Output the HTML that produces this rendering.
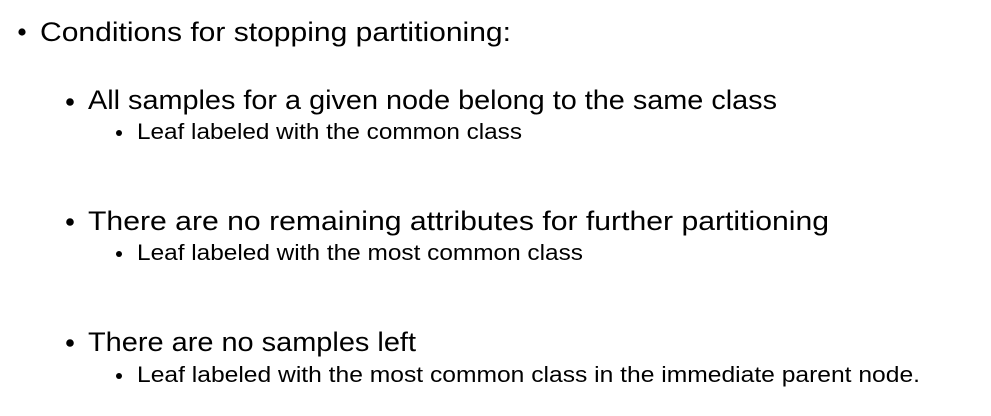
<!DOCTYPE html>
<html><head><meta charset="utf-8"><style>
html,body{margin:0;padding:0;background:#fff;width:991px;height:416px;overflow:hidden}
text{font-family:"Liberation Sans",sans-serif;fill:#000}
</style></head><body>
<svg width="991" height="416" xmlns="http://www.w3.org/2000/svg">
<circle cx="22" cy="32" r="3.6" fill="#000"/>
<text x="40" y="41" font-size="27" textLength="471" lengthAdjust="spacingAndGlyphs">Conditions for stopping partitioning:</text>

<circle cx="70" cy="102" r="3.8" fill="#000"/>
<text x="88" y="109" font-size="27" textLength="689" lengthAdjust="spacingAndGlyphs">All samples for a given node belong to the same class</text>
<circle cx="119" cy="133" r="3" fill="#000"/>
<text x="137" y="139" font-size="22" textLength="385" lengthAdjust="spacingAndGlyphs">Leaf labeled with the common class</text>

<circle cx="70" cy="222" r="3.8" fill="#000"/>
<text x="88" y="230" font-size="27" textLength="741" lengthAdjust="spacingAndGlyphs">There are no remaining attributes for further partitioning</text>
<circle cx="119" cy="254" r="3" fill="#000"/>
<text x="137" y="260" font-size="22" textLength="446" lengthAdjust="spacingAndGlyphs">Leaf labeled with the most common class</text>

<circle cx="70" cy="343" r="3.8" fill="#000"/>
<text x="88" y="351" font-size="27" textLength="328" lengthAdjust="spacingAndGlyphs">There are no samples left</text>
<circle cx="119" cy="376" r="3" fill="#000"/>
<text x="137" y="382" font-size="22" textLength="783" lengthAdjust="spacingAndGlyphs">Leaf labeled with the most common class in the immediate parent node.</text>
</svg>
</body></html>
